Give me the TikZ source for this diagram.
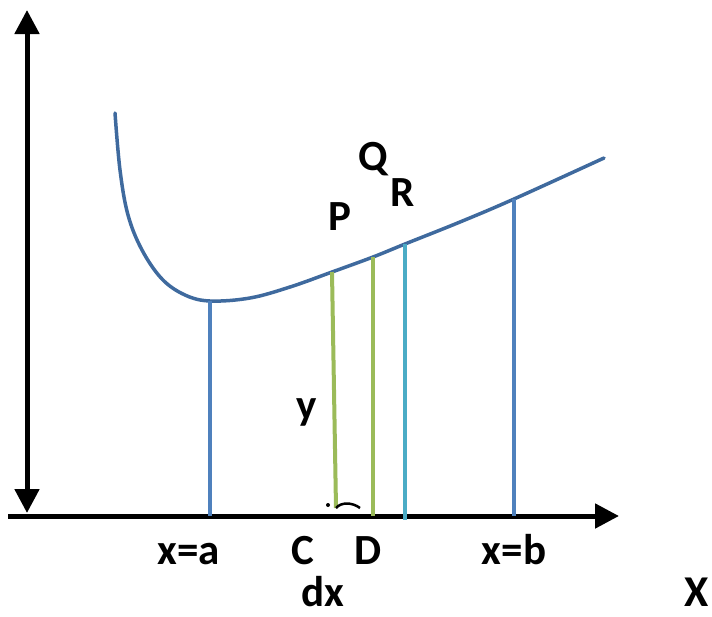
\documentclass[tikz,border=0pt]{standalone}
\usepackage{fontspec}
\setmainfont{Carlito}
\usetikzlibrary{arrows.meta, positioning}

\definecolor{curveblue}{HTML}{3F6A9E}
\definecolor{lineblue}{HTML}{4F81BD}
\definecolor{stripgreen}{HTML}{9BBB59}
\definecolor{lightblue}{HTML}{4BACC6}

\begin{document}
\begin{tikzpicture}[x=1pt, y=-1pt,
    >={Triangle[length=24pt,width=24pt]},
    axis/.style={line width=5pt},
    curve/.style={draw=curveblue, line width=3.5pt},
    ordinate/.style={line width=4pt},
    lbl/.style={font=\fontsize{43}{45}\selectfont\bfseries, inner sep=0pt, anchor=base}]

    \useasboundingbox (0,0) rectangle (712,616);

    % axes
    \coordinate (ytop) at (27,10);
    \coordinate (ybot) at (27,513);
    \coordinate (xl)   at (8,516);
    \coordinate (xr)   at (619,516);
    \draw[axis,<->] (ytop) -- (ybot);
    \draw[axis,->]  (xl) -- (xr);

    % points on the curve
    \coordinate (A) at (210,301);
    \coordinate (P) at (332,272);
    \coordinate (Q) at (373,257);
    \coordinate (R) at (405,244);
    \coordinate (B) at (514,199);
    \coordinate (C) at (336,508);

    % the curve
    \draw[curve, line cap=round] plot[smooth, tension=0.6] coordinates {
        (115,113) (120,170) (128,215) (142,250) (162,279) (185,295)
        (210,301) (250,298) (290,287) (332,272) (373,257) (405,244)
        (460,222) (514,199) (604,158)};

    % ordinates
    \draw[ordinate, lineblue]   (A) -- (A |- xl);
    \draw[ordinate, stripgreen] (P) -- (C);
    \draw[ordinate, stripgreen] (Q) -- (Q |- xl);
    \draw[ordinate, lightblue]  (R) -- ([yshift=-4pt]R |- xl);
    \draw[ordinate, lineblue]   (B) -- (B |- xl);

    % mark at C
    \fill (328,505) circle (2pt);
    \draw[line width=2.5pt] (C) .. controls (341,502) and (352,502) .. (360,508);

    % labels
    \node[lbl] (xa)  at (189,564) {x=a};
    \node[lbl] (lC)  at (303,564) {C};
    \node[lbl] (lD)  at (368,564) {D};
    \node[lbl] (xb)  at (514,564) {x=b};
    \node[lbl] (dx)  at (323,606) {dx};
    \node[lbl] (ly)  at (307,419) {y};
    \node[lbl] (lP)  at (340,230) {P};
    \node[lbl] (lQ)  at (373,170) {Q};
    \node[lbl] (lR)  at (403,206) {R};
    \node[lbl, font=\fontsize{44}{46}\selectfont\bfseries] (lX) at (697,606) {X};
\end{tikzpicture}
\end{document}
